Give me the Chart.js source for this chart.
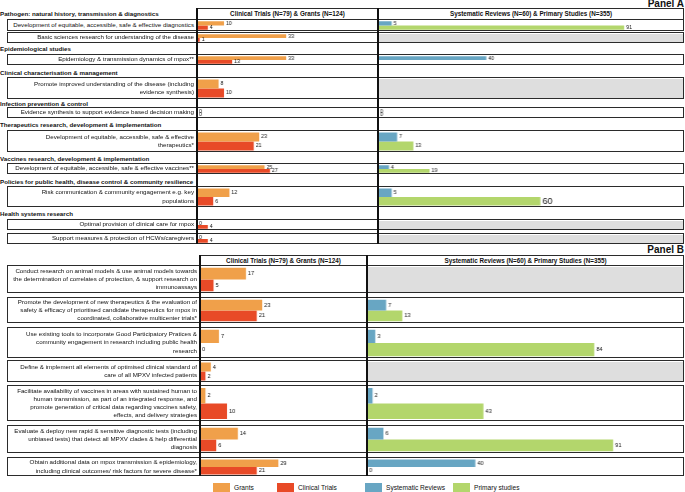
<!DOCTYPE html>
<html>
<head>
<meta charset="utf-8">
<script src="https://cdn.jsdelivr.net/npm/chart.js@4.4.1/dist/chart.umd.min.js"></script>
<style>
  html, body { margin: 0; padding: 0; background: #fff; }
  #page { position: relative; width: 685px; height: 492px; overflow: hidden;
          font-family: "Liberation Sans", Arial, sans-serif; color: #111; }
  .box { position: absolute; border: 1.5px solid #2b2b2b; box-sizing: border-box; z-index: 3; }
  .vline { position: absolute; width: 1.2px; background: #111; z-index: 4; }
  .rowlabel { position: absolute; display: flex; flex-direction: column; justify-content: center;
              text-align: right; font-size: 6.2px; line-height: 8.2px; z-index: 2; white-space: nowrap; }
  .group { position: absolute; left: 0; font-size: 6.2px; font-weight: bold; line-height: 8px; white-space: nowrap; }
  .colhead { position: absolute; font-size: 6.3px; font-weight: bold; line-height: 8px; text-align: center; white-space: nowrap; }
  .panel { position: absolute; right: 1px; font-size: 10px; font-weight: bold; line-height: 10px; }
  .legend { position: absolute; top: 483px; display: flex; align-items: center; font-size: 6.6px; }
  .legend span.sw { display: inline-block; width: 17px; height: 9px; margin-right: 4px; }
  canvas { position: absolute; z-index: 1; }
</style>
</head>
<body>
<div id="page"></div>
<script>
// ---------- data: Panel A ----------
const groupsA = [
  "Pathogen: natural history, transmission & diagnostics",
  "Epidemiological studies",
  "Clinical characterisation & management",
  "Infection prevention & control",
  "Therapeutics research, development & implementation",
  "Vaccines research, development & implementation",
  "Policies for public health, disease control & community resilience",
  "Health systems research"
];
const rowsA = [
  ["Development of equitable, accessible, safe & effective diagnostics"],
  ["Basic sciences research for understanding of the disease"],
  ["Epidemiology & transmission dynamics of mpox**"],
  ["Promote improved understanding of the disease (including", "evidence synthesis)"],
  ["Evidence synthesis to support evidence based decision making"],
  ["Development of equitable, accessible, safe & effective", "therapeutics*"],
  ["Development of equitable, accessible, safe & effective vaccines**"],
  ["Risk communication & community engagement e.g. key", "populations"],
  ["Optimal provision of clinical care for mpox"],
  ["Support measures & protection of HCWs/caregivers"]
];
const grantsA  = [10, 33, 33, 8, 0, 23, 25, 12, 0, 0];
const trialsA  = [4, 1, 13, 10, 0, 21, 27, 6, 4, 4];
const reviewsA = [5, null, 40, null, 0, 7, 4, 5, null, null];
const primaryA = [91, null, null, null, 0, 13, 19, 60, null, null];

// ---------- data: Panel B ----------
const rowsB = [
  ["Conduct research on animal models & use animal models towards",
   "the determination of correlates of protection, & support research on",
   "immunoassays"],
  ["Promote the development of new therapeutics & the evaluation of",
   "safety & efficacy of prioritised candidate therapeutics for mpox in",
   "coordinated, collaborative multicenter trials*"],
  ["Use existing tools to incorporate Good Participatory Pratices &",
   "community engagement in research including public health",
   "research"],
  ["Define & implement all elements of optimised clinical standard of",
   "care of all MPXV infected patients"],
  ["Facilitate availability of vaccines in areas with sustained human to",
   "human transmission, as part of an integrated response, and",
   "promote generation of critical data regarding vaccines safety,",
   "effects, and delivery strategies"],
  ["Evaluate & deploy new rapid & sensitive diagnostic tests (including",
   "unbiased tests) that detect all MPXV clades & help differential",
   "diagnosis"],
  ["Obtain additional data on mpox transmission & epidemiology,",
   "including clinical outcomes/ risk factors for severe disease*"]
];
const grantsB  = [17, 23, 7, 4, 2, 14, 29];
const trialsB  = [5, 21, 0, 2, 10, 6, 21];
const reviewsB = [null, 7, 3, null, 2, 6, 40];
const primaryB = [null, 13, 84, null, 43, 91, 0];

const seriesNames = ["Grants", "Clinical Trials", "Systematic Reviews", "Primary studies"];
const leftHead  = "Clinical Trials (N=79) & Grants (N=124)";
const rightHead = "Systematic Reviews (N=60) & Primary Studies (N=355)";

// ---------- styling / layout ----------
const COLORS = ["#F0A04A", "#E84A27", "#68A6C3", "#B3D66C"];
const GRAY = "#DEDEDE";
const PX_PER_UNIT = 2.7;

const layoutA = {
  title: "Panel A", titleTop: -1,
  cols: [197, 378, 684], headTop: 8, headMid: 13.5, boxLeft: 7,
  rows: [[19,31],[32,43],[54,65],[77,99],[107,118],[130,152],[163,174],[186,207],[219,230],[233,244]],
  groupY: [14, 49, 73, 104, 125, 159, 182, 214],
  labelSize: 5.2, big: { "7-3": 9 }
};
const layoutB = {
  title: "Panel B", titleTop: 245,
  cols: [200, 367, 684], headTop: 255, headMid: 261, boxLeft: 7,
  rows: [[265,293],[297,323],[327,358],[360,382],[385,421],[425,453],[457,476]],
  groupY: [],
  labelSize: 5.6, big: {}
};

const page = document.getElementById("page");
function el(cls, css, text) {
  const d = document.createElement("div");
  d.className = cls;
  Object.assign(d.style, css);
  if (text !== undefined) d.textContent = text;
  page.appendChild(d);
  return d;
}

// grey fill for empty right column + value labels at bar ends
const rowDeco = {
  id: "rowDeco",
  beforeDatasetsDraw(chart, args, opts) {
    if (!opts.grayRight) return;
    const {ctx, chartArea} = chart;
    const xr = chart.scales.xr;
    ctx.save();
    ctx.fillStyle = GRAY;
    ctx.fillRect(xr.left, chartArea.top, xr.right - xr.left, chartArea.bottom - chartArea.top);
    ctx.restore();
  },
  afterDatasetsDraw(chart, args, opts) {
    const {ctx} = chart;
    ctx.save();
    ctx.fillStyle = "#111";
    ctx.textBaseline = "middle";
    chart.data.datasets.forEach((ds, i) => {
      const v = ds.data[0];
      if (v === null || v === undefined) return;
      const bar = chart.getDatasetMeta(i).data[0];
      const size = (opts.big && opts.big[i]) || opts.size;
      ctx.font = size + "px 'Liberation Sans', Arial, sans-serif";
      ctx.fillText(String(v), bar.x + 2, bar.y);
    });
    ctx.restore();
  }
};

function buildPanel(L, groups, rows, g, t, r, p) {
  const [c0, c1, c2] = L.cols;
  const first = L.rows[0][0], last = L.rows[L.rows.length - 1][1];
  el("panel", { top: L.titleTop + "px" }, L.title);
  el("box", { left: c0 + "px", top: L.headTop + "px", width: (c2 - c0) + "px",
              height: (first - L.headTop + 1) + "px", borderBottom: "none" });
  el("colhead", { left: c0 + "px", width: (c1 - c0) + "px", top: (L.headMid - 4) + "px" }, leftHead);
  el("colhead", { left: c1 + "px", width: (c2 - c1) + "px", top: (L.headMid - 4) + "px" }, rightHead);
  el("vline", { left: (c0 - 0.6) + "px", top: L.headTop + "px", height: (last - L.headTop) + "px" });
  el("vline", { left: (c1 - 0.6) + "px", top: L.headTop + "px", height: (last - L.headTop) + "px" });
  groups.forEach((txt, i) => el("group", { top: (L.groupY[i] - 4) + "px" }, txt));

  const innerRight = c2 - 1.5;
  const leftMax = (c1 - c0) / PX_PER_UNIT;
  const rightMax = (innerRight - c1) / PX_PER_UNIT;

  rows.forEach((lines, i) => {
    const [top, bottom] = L.rows[i];
    const h = bottom - top;
    el("box", { left: L.boxLeft + "px", top: top + "px", width: (c2 - L.boxLeft) + "px", height: h + "px" });
    const lab = el("rowlabel", { left: (L.boxLeft + 2) + "px", top: top + "px",
                                 width: (c0 - L.boxLeft - 5) + "px", height: h + "px" });
    lines.forEach(line => { const s = document.createElement("div"); s.textContent = line; lab.appendChild(s); });

    const cv = document.createElement("canvas");
    const cw = innerRight - c0, ch = h - 3;
    cv.width = cw; cv.height = ch;
    Object.assign(cv.style, { left: c0 + "px", top: (top + 1.5) + "px", width: cw + "px", height: ch + "px" });
    page.appendChild(cv);

    const vals = [g[i], t[i], r[i], p[i]];
    const big = {};
    [0, 1, 2, 3].forEach(k => { if (L.big[i + "-" + k]) big[k] = L.big[i + "-" + k]; });
    new Chart(cv, {
      type: "bar",
      data: {
        labels: [lines.join(" ")],
        datasets: vals.map((v, k) => ({
          label: seriesNames[k],
          data: [v],
          backgroundColor: COLORS[k],
          borderWidth: 0,
          xAxisID: k < 2 ? "xl" : "xr",
          stack: k % 2 === 0 ? "top" : "bottom",
          categoryPercentage: 0.94,
          barPercentage: 1.0
        }))
      },
      options: {
        indexAxis: "y",
        responsive: false,
        animation: false,
        layout: { padding: 0 },
        plugins: {
          legend: { display: false },
          tooltip: { enabled: false },
          rowDeco: { grayRight: r[i] === null && p[i] === null, size: L.labelSize, big: big }
        },
        scales: {
          y: { display: false },
          xl: { type: "linear", position: "bottom", stack: "cols", stackWeight: c1 - c0,
                min: 0, max: leftMax, display: false },
          xr: { type: "linear", position: "bottom", stack: "cols", stackWeight: innerRight - c1,
                min: 0, max: rightMax, display: false }
        }
      },
      plugins: [rowDeco]
    });
  });
}

buildPanel(layoutA, groupsA, rowsA, grantsA, trialsA, reviewsA, primaryA);
buildPanel(layoutB, [], rowsB, grantsB, trialsB, reviewsB, primaryB);

// legend
const legendX = [213, 277, 365, 453];
seriesNames.forEach((name, k) => {
  const d = el("legend", { left: legendX[k] + "px" });
  const sw = document.createElement("span");
  sw.className = "sw"; sw.style.background = COLORS[k];
  d.appendChild(sw);
  d.appendChild(document.createTextNode(name));
});
</script>
</body>
</html>
